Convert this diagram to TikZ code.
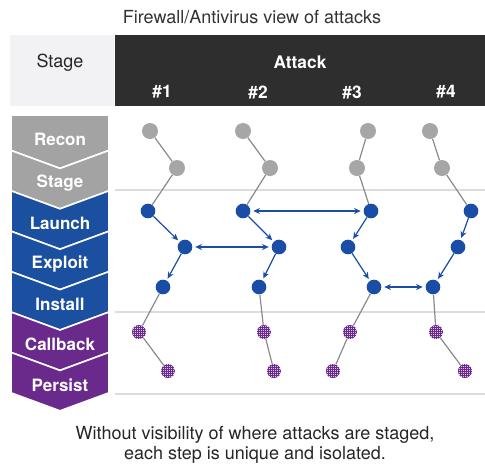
\documentclass[tikz,border=0pt]{standalone}
\usepackage{fontspec}
\setmainfont{TeX Gyre Heros}
\usetikzlibrary{arrows.meta}
\usetikzlibrary{patterns.meta}

\definecolor{stagegray}{HTML}{A3A3A3}
\definecolor{stageblue}{HTML}{1B4F9F}
\definecolor{stagepurple}{HTML}{6A2A8C}
\definecolor{headdark}{HTML}{2E2E2E}
\definecolor{headlight}{HTML}{F2F2F4}
\definecolor{dotgray}{HTML}{A6A6A6}
\definecolor{dotblue}{HTML}{1A4DA6}
\definecolor{dotlilac}{HTML}{D9C8E6}
\definecolor{linkgray}{HTML}{8A8A8A}
\definecolor{rulegray}{HTML}{DCDCDC}

\tikzset{
  gdot/.style={circle, fill=dotgray, minimum size=12pt, inner sep=0pt},
  bdot/.style={circle, fill=dotblue, minimum size=11pt, inner sep=0pt},
  pdot/.style={circle, minimum size=10.5pt, inner sep=0pt,
    preaction={fill=dotlilac},
    pattern={Hatch[angle=0,distance=1.5pt,line width=0.6pt]},
    pattern color=stagepurple},
  glink/.style={draw=linkgray, line width=0.9pt},
  blink/.style={draw=dotblue, line width=0.9pt, -{Stealth[length=5pt,width=4.5pt]},
    shorten >=1.5pt},
  bboth/.style={blink, {Stealth[length=5pt,width=4.5pt]}-{Stealth[length=5pt,width=4.5pt]},
    shorten <=2pt, shorten >=2pt},
  stagelbl/.style={text=white, font=\fontsize{12.75}{14}\selectfont\bfseries},
  headlbl/.style={text=white, font=\fontsize{13}{15}\selectfont\bfseries},
  plain/.style={font=\fontsize{13.5}{14.5}\selectfont},
}

\begin{document}
\begin{tikzpicture}[x=0.75pt, y=-0.75pt]
\useasboundingbox (0,0) rectangle (485,469);

% title and header
\node[plain, text=black!80] (title) at (252,17) {Firewall/Antivirus view of attacks};
\fill[headlight] (10,35) rectangle (114,106);
\fill[headdark] (115,35) rectangle (485,106);
\node[plain, text=black!85] (stagehd) at (60,63) {Stage};
\node[headlbl] (attackhd) at (300,62) {Attack};
\foreach \n/\x in {1/162,2/258,3/352,4/446}{
  \node[headlbl] (num\n) at (\x,92) {\#\n};
}

% row rules
\foreach \y in {190,312,394}{
  \draw[rulegray, line width=0.8pt] (115,\y) -- (485,\y);
}

% stage chevrons
\foreach \k/\name/\col in {0/Recon/stagegray, 1/Stage/stagegray,
    2/Launch/stageblue, 3/Exploit/stageblue, 4/Install/stageblue,
    5/Callback/stagepurple, 6/Persist/stagepurple}{
  \pgfmathsetmacro{\top}{\k==0 ? 115 : 110+40.4*\k}
  \pgfmathsetmacro{\tip}{\k==0 ? 0 : 18}
  \pgfmathsetmacro{\bot}{110+40.4*(\k+1)}
  \pgfmathsetmacro{\ly}{\k==0 ? 139 : \bot-8}
  \filldraw[fill=\col, draw=white, line width=1.2pt]
    (11,\top) -- (60,\top+\tip) -- (109,\top) -- (109,\bot)
    -- (60,\bot+18) -- (11,\bot) -- cycle;
  \node[stagelbl] (st\k) at (60,\ly) {\name};
}

% attack steps
\foreach \n/\xa/\xb/\xc/\xd/\xe/\xf/\xg in {1/150/177/148/185/163/139/168,
    2/243/270/243/279/259/264/274, 3/368/357/371/348/374/350/333,
    4/430/442/471/458/433/436/465}{
  \node[gdot] (a\n-1) at (\xa,131) {};
  \node[gdot] (a\n-2) at (\xb,168) {};
  \node[bdot] (a\n-3) at (\xc,211) {};
  \node[bdot] (a\n-4) at (\xd,247) {};
  \node[bdot] (a\n-5) at (\xe,287) {};
  \node[pdot] (a\n-6) at (\xf,332) {};
  \node[pdot] (a\n-7) at (\xg,371) {};
}
\foreach \n in {1,...,4}{
  \draw[glink] (a\n-1) -- (a\n-2) -- (a\n-3);
  \draw[blink] (a\n-3) -- (a\n-4);
  \draw[blink] (a\n-4) -- (a\n-5);
  \draw[glink] (a\n-5) -- (a\n-6) -- (a\n-7);
}
\draw[bboth] (a1-4) -- (a2-4);
\draw[bboth] (a2-3) -- (a3-3);
\draw[bboth] (a3-5) -- (a4-5);

% footer
\node[plain, align=center, text=black!85] (footer) at (255,445)
  {Without visibility of where attacks are staged,\\each step is unique and isolated.};
\end{tikzpicture}
\end{document}
